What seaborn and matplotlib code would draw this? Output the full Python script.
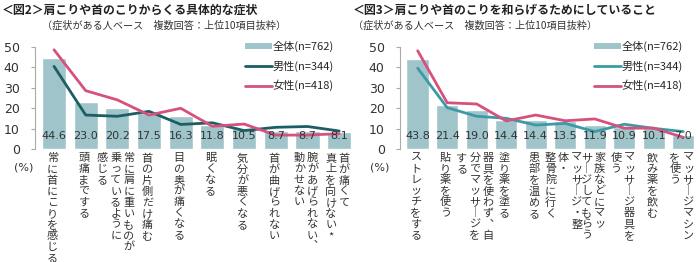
import numpy as np
import pandas as pd
import matplotlib
matplotlib.use("Agg")
import matplotlib.pyplot as plt
from matplotlib.patches import Patch
from matplotlib.lines import Line2D
import seaborn as sns

# ---------------- data ----------------
title2 = "＜図2＞肩こりや首のこりからくる具体的な症状"
title3 = "＜図3＞肩こりや首のこりを和らげるためにしていること"
subtitle = "（症状がある人ベース　複数回答：上位10項目抜粋）"

cats2 = ["常に首にこりを感じる", "頭痛までする",
         "常に肩に重いものが\n乗っているように\n感じる",
         "首の片側だけ痛む", "目の奥が痛くなる", "眠くなる", "気分が悪くなる",
         "首が曲げられない", "腕があげられない、\n動かせない",
         "首が痛くて\n真上を向けない*"]
total2 = [44.6, 23.0, 20.2, 17.5, 16.3, 11.8, 10.5, 8.7, 8.7, 8.1]
male2 = [40.4, 16.6, 16.0, 18.4, 12.0, 12.8, 9.0, 10.6, 11.0, 8.8]
female2 = [48.5, 28.5, 24.0, 16.6, 19.9, 11.1, 12.2, 6.8, 6.8, 7.5]

cats3 = ["ストレッチをする", "貼り薬を使う",
         "器具を使わず、自\n分でマッサージを\nする",
         "塗り薬を塗る", "患部を温める",
         "マッサージ・整\n体・\n整骨院に行く",
         "家族などにマッ\nサージしてもらう",
         "マッサージ器具を\n使う", "飲み薬を飲む",
         "マッサージマシン\nを使う"]
total3 = [43.8, 21.4, 19.0, 14.4, 14.4, 13.5, 11.9, 10.9, 10.1, 7.0]
male3 = [39.5, 20.2, 16.0, 15.0, 11.7, 12.5, 8.5, 12.1, 10.1, 8.5]
female3 = [48.0, 22.6, 22.0, 13.7, 16.6, 13.8, 14.7, 10.2, 10.2, 5.7]

legend_labels = ["全体(n=762)", "男性(n=344)", "女性(n=418)"]
yticks = [0, 10, 20, 30, 40, 50]

# ---------------- style ----------------
sns.set_style("white")
plt.rcParams["font.family"] = ["Noto Sans CJK JP", "DejaVu Sans"]
CJK = ["Noto Sans CJK JP", "DejaVu Sans"]

BAR = "#9fc4ca"
PINK = "#d6517b"
TEAL_DARK = "#1b5f65"
TEAL_LIGHT = "#3b9aa6"
TXT = "#333333"

fig = plt.figure(figsize=(7, 2.62), dpi=100)

VMAP = {"ー": "︱", "、": "︑", "－": "︱"}


def vertical_labels(ax, cats):
    for i, lab in enumerate(cats):
        cols = lab.split("\n")
        n = len(cols)
        for j, col in enumerate(cols):
            off = ((n - 1) / 2 - j) * 9.5 - 1.2
            s = "\n".join(VMAP.get(c, c) for c in col)
            ax.annotate(s, xy=(i, 0), xycoords="data",
                        xytext=(off, -3), textcoords="offset points",
                        ha="center", va="top", fontsize=8, linespacing=1.13,
                        family=CJK, color=TXT, annotation_clip=False)


def panel(rect, cats, total, male, female, male_color, title, title_x,
          sub_x, pct_x, legend_anchor):
    ax = fig.add_axes(rect)
    df = pd.DataFrame({"cat": cats, "total": total})
    sns.barplot(data=df, x="cat", y="total", color=BAR, width=0.76,
                saturation=1, ax=ax)
    idx = np.arange(len(cats))
    sns.lineplot(x=idx, y=male, color=male_color, lw=2, ax=ax)
    sns.lineplot(x=idx, y=female, color=PINK, lw=2, ax=ax)
    for i, v in enumerate(total):
        ax.text(i, 6.3, f"{v:.1f}", ha="center", va="center", fontsize=8,
                family="DejaVu Sans", color=TXT)
    ax.set_ylim(0, 50)
    ax.set_xlim(-0.6, len(cats) - 0.5)
    ax.set_yticks(yticks)
    ax.set_yticklabels([str(t) for t in yticks], family="DejaVu Sans",
                       fontsize=9, color=TXT)
    ax.tick_params(axis="y", left=True, length=3, width=0.8, color="#aaaaaa",
                   pad=8)
    ax.tick_params(axis="x", bottom=False, labelbottom=False)
    ax.set_xlabel("")
    ax.set_ylabel("")
    for s in ["top", "right", "bottom"]:
        ax.spines[s].set_visible(False)
    ax.spines["left"].set_color("#aaaaaa")
    ax.spines["left"].set_linewidth(0.8)
    vertical_labels(ax, cats)
    fig.text(title_x, 1 - 10 / 262, title, fontsize=8.6, fontweight="bold",
             ha="left", va="center", color="#222222", family=CJK)
    fig.text(sub_x, 1 - 26 / 262, subtitle, fontsize=7.3,
             ha="left", va="center", color=TXT, family=CJK)
    fig.text(pct_x, 1 - 168 / 262, "(%)", fontsize=8, ha="center",
             va="center", color=TXT, family="DejaVu Sans")
    handles = [Patch(facecolor=BAR, edgecolor="none"),
               Line2D([], [], color=male_color, lw=2),
               Line2D([], [], color=PINK, lw=2)]
    fig.legend(handles, legend_labels, loc="upper left",
               bbox_to_anchor=legend_anchor, frameon=False, fontsize=8,
               handlelength=2.4, handleheight=0.5, handletextpad=0.1,
               labelspacing=0.75, borderpad=0, borderaxespad=0)
    return ax


panel([35 / 700, 1 - 149 / 262, 320 / 700, 102.3 / 262], cats2, total2,
      male2, female2, TEAL_DARK, title2, 2 / 700, 42 / 700, 24 / 700,
      (245 / 700, 1 - 41 / 262))
panel([400 / 700, 1 - 149 / 262, 298 / 700, 102.3 / 262], cats3, total3,
      male3, female3, TEAL_LIGHT, title3, 353 / 700, 353 / 700, 380 / 700,
      (594 / 700, 1 - 41 / 262))

fig.savefig("out.png", dpi=100)
